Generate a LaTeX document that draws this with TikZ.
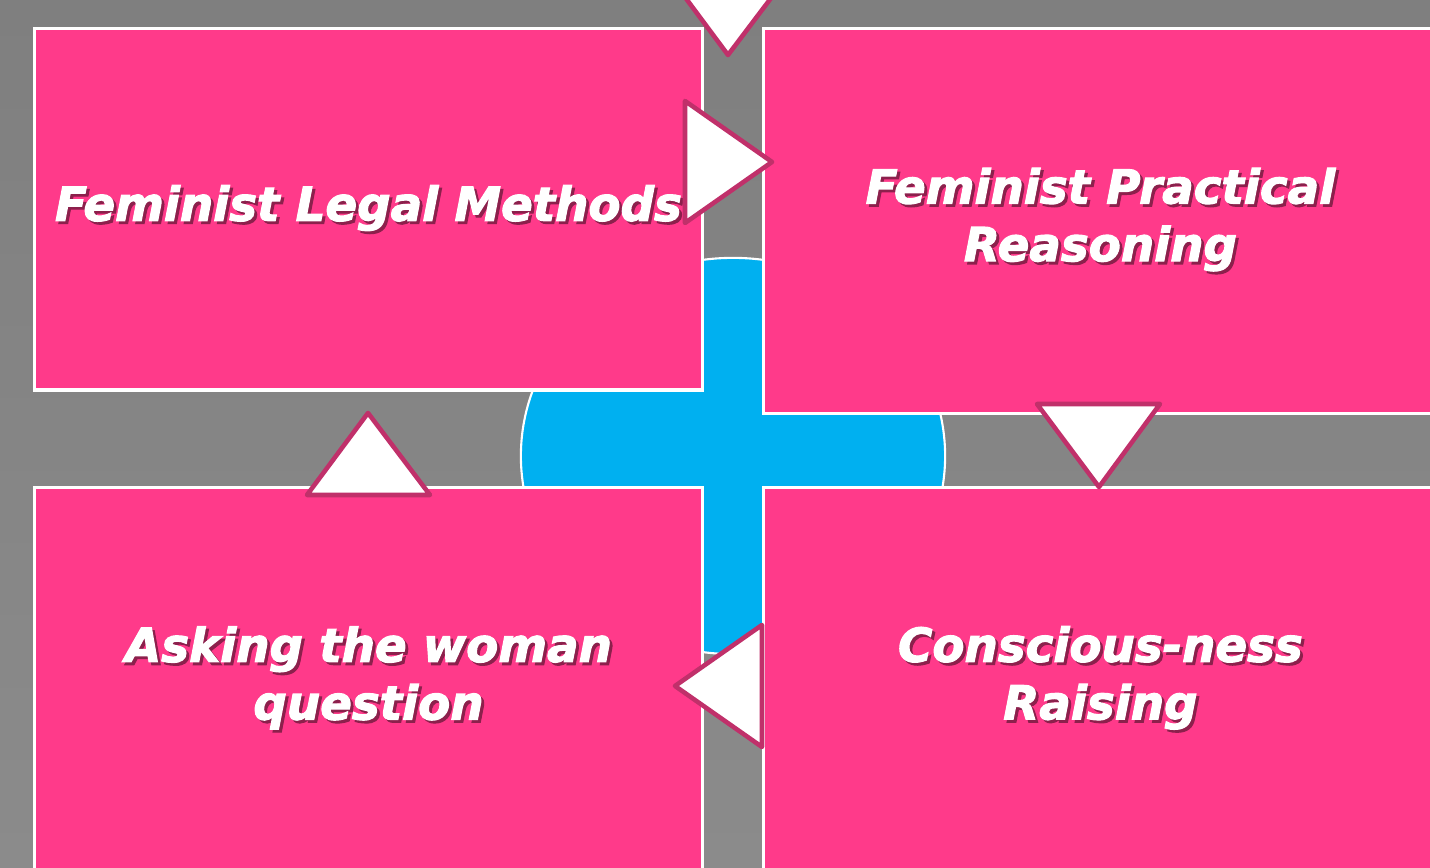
\documentclass[tikz,border=0pt]{standalone}
\usepackage{fontspec}
\newfontfamily\labelfont{DejaVu Sans Bold Oblique}[FakeBold=2.4]
\usepackage{xcolor}
\usepackage{tikz}
\usetikzlibrary{shapes.geometric, positioning, calc}

\definecolor{boxpink}{HTML}{FF3A8A}
\definecolor{hubblue}{HTML}{00B0F0}
\definecolor{tipedge}{HTML}{C0306A}
\definecolor{slatetop}{HTML}{7F7F7F}
\definecolor{slatelow}{HTML}{8B8B8B}
\colorlet{textshade}{black!45!boxpink}

% white label with a small dark drop shadow
\newcommand{\shtext}[1]{\leavevmode\rlap{\kern0.8pt\raisebox{-0.8pt}{\textcolor{textshade}{#1}}}#1}

\begin{document}
\begin{tikzpicture}[
    x=0.01cm, y=0.01cm,
    stagebox/.style={rectangle, draw=white, line width=0.9pt, outer sep=0pt, fill=boxpink, text=white, align=center, inner sep=0pt,
        font=\labelfont\fontsize{13.3pt}{16.4pt}\selectfont},
    hub/.style={ellipse, draw=white, line width=0.6pt, fill=hubblue, minimum width=4.24cm, minimum height=3.96cm, inner sep=0pt},
    flowtip/.style={fill=white, draw=tipedge, line width=1.3pt, line join=round}
]
\useasboundingbox (0,0) rectangle (1430,868);
\clip (0,0) rectangle (1430,868);
\shade[top color=slatetop, bottom color=slatelow] (0,0) rectangle (1430,868);

% blue disc behind the four boxes
\node[hub] (hub) at (733,412) {};

\node[stagebox, minimum width=6.67cm, minimum height=3.61cm] (methods) at (368.5,658.5) {\shtext{Feminist Legal Methods}};
\node[stagebox, minimum width=6.74cm, minimum height=3.84cm, right=0.61cm of methods.north east, anchor=north west] (practical)
    {\shtext{Feminist Practical}\\\shtext{Reasoning}};
\node[stagebox, minimum width=6.67cm, minimum height=3.84cm, below=0.97cm of methods.south west, anchor=north west] (woman)
    {\shtext{Asking the woman}\\\shtext{question}};
\node[stagebox, minimum width=6.74cm, minimum height=3.84cm, right=0.61cm of woman.north east, anchor=north west] (raising)
    {\shtext{Conscious-ness}\\\shtext{Raising}};

% arrow heads going round the cycle
\filldraw[flowtip] (667,895) -- (790,895) -- (728,813) -- cycle;
\filldraw[flowtip] (685,767) -- (772,706) -- (685,645) -- cycle;
\filldraw[flowtip] (1037,464) -- (1160,464) -- (1099,381) -- cycle;
\filldraw[flowtip] (762,243) -- (675,182) -- (762,121) -- cycle;
\filldraw[flowtip] (307,373) -- (430,373) -- (368,455) -- cycle;
\end{tikzpicture}
\end{document}
